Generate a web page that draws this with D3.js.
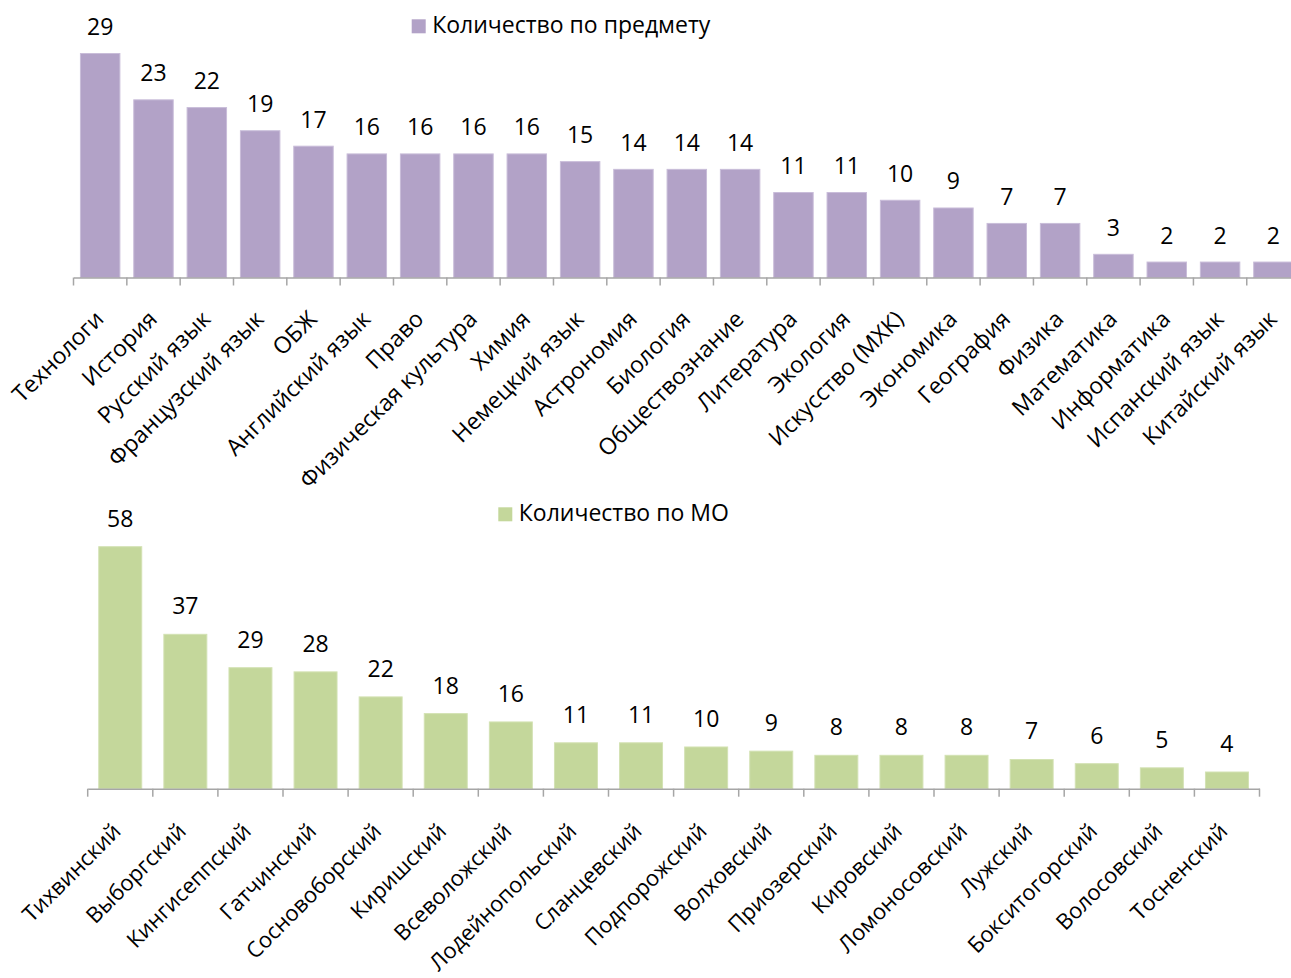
<!DOCTYPE html>
<html><head><meta charset="utf-8">
<script src="https://cdn.jsdelivr.net/npm/d3@7"></script>
<style>
html,body{margin:0;padding:0;background:#fff;}
svg text{font-family:"Open Sans","Noto Sans",sans-serif;fill:#000;}
</style></head>
<body>
<svg id="c" width="1291" height="978"></svg>
<script>
const subjects = ["Технологи","История","Русский язык","Французский язык","ОБЖ","Английский язык","Право","Физическая культура","Химия","Немецкий язык","Астрономия","Биология","Обществознание","Литература","Экология","Искусство (МХК)","Экономика","География","Физика","Математика","Информатика","Испанский язык","Китайский язык"];
const subjectCounts = [29,23,22,19,17,16,16,16,16,15,14,14,14,11,11,10,9,7,7,3,2,2,2];
const districts = ["Тихвинский","Выборгский","Кингисеппский","Гатчинский","Сосновоборский","Киришский","Всеволожский","Лодейнопольский","Сланцевский","Подпорожский","Волховский","Приозерский","Кировский","Ломоносовский","Лужский","Бокситогорский","Волосовский","Тосненский"];
const districtCounts = [58,37,29,28,22,18,16,11,11,10,9,8,8,8,7,6,5,4];
const legendTop = "Количество по предмету";
const legendBottom = "Количество по МО";

const svg = d3.select("#c");
const FS = 23;

function drawChart(cfg){
  const g = svg.append("g");
  const x = d3.scaleBand().domain(cfg.cats).range(cfg.xRange).paddingInner(cfg.pad).paddingOuter(cfg.pad/2);
  const y = d3.scaleLinear().domain([0, d3.max(cfg.vals)]).range([cfg.y0, cfg.yTop]);
  const data = cfg.cats.map((c,i)=>({c, v:cfg.vals[i]}));
  g.selectAll("rect.bar").data(data).enter().append("rect")
    .attr("class","bar")
    .attr("x", d=>x(d.c)).attr("width", x.bandwidth())
    .attr("y", d=>y(d.v)).attr("height", d=>cfg.y0 - y(d.v))
    .attr("fill", cfg.color).attr("stroke", cfg.stroke).attr("stroke-width",1);
  g.selectAll("text.val").data(data).enter().append("text")
    .attr("class","val")
    .attr("x", d=>x(d.c)+x.bandwidth()/2)
    .attr("y", d=>y(d.v)-cfg.labOff)
    .attr("text-anchor","middle").attr("font-size",FS)
    .text(d=>d.v);
  const axis = d3.axisBottom(x).tickSize(0).tickFormat("");
  const ag = g.append("g").attr("transform",`translate(0,${cfg.y0})`).call(axis);
  ag.select(".domain").attr("stroke","#a6a6a6").attr("stroke-width",1.5);
  const step = x.step();
  const tickPos = d3.range(cfg.cats.length+1).map(i=>cfg.xRange[0]+i*step);
  g.selectAll("line.tk").data(tickPos).enter().append("line")
    .attr("x1",d=>d).attr("x2",d=>d).attr("y1",cfg.y0).attr("y2",cfg.y0+8)
    .attr("stroke","#a6a6a6").attr("stroke-width",1.5);
  g.selectAll("text.cat").data(data).enter().append("text")
    .attr("class","cat")
    .attr("text-anchor","end").attr("font-size",cfg.catFS)
    .attr("transform", d=>`translate(${x(d.c)+x.bandwidth()/2+cfg.labDx},${cfg.y0+cfg.labDy}) rotate(-45)`)
    .text(d=>d.c);
  g.append("rect").attr("x",cfg.legX).attr("y",cfg.legY).attr("width",14).attr("height",14).attr("fill",cfg.color);
  g.append("text").attr("x",cfg.legX+20.5).attr("y",cfg.legY+14).attr("font-size",FS).text(cfg.legend);
}

drawChart({cats:subjects, vals:subjectCounts, xRange:[73.5, 73.5+23*53.33], pad:0.26,
  y0:277.5, yTop:53.5, color:"#b2a2c7", stroke:"#c9bdd9", labOff:18.5, labDx:5, labDy:43, catFS:23,
  legX:411.7, legY:19.3, legend:legendTop});
drawChart({cats:districts, vals:districtCounts, xRange:[87.7, 1259.5], pad:0.34,
  y0:788.7, yTop:546.7, color:"#c4d79b", stroke:"#d3e2b3", labOff:20, labDx:2, labDy:44, catFS:22,
  legX:498.3, legY:507.3, legend:legendBottom});
</script>
</body></html>
